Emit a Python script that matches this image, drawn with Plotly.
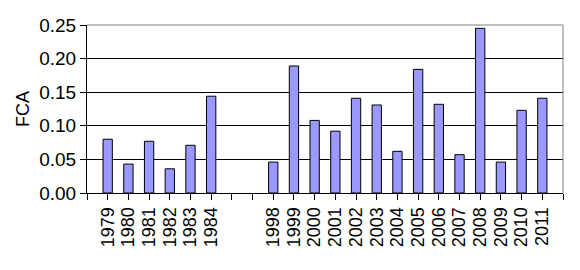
import plotly.graph_objects as go

years = ["1979", "1980", "1981", "1982", "1983", "1984",
         "1998", "1999", "2000", "2001", "2002", "2003", "2004",
         "2005", "2006", "2007", "2008", "2009", "2010", "2011"]
fca = [0.080, 0.043, 0.077, 0.036, 0.071, 0.144,
       0.046, 0.189, 0.108, 0.092, 0.141, 0.131, 0.062,
       0.184, 0.132, 0.057, 0.245, 0.046, 0.123, 0.141]
# category slots: two empty slots between 1984 and 1998
slots = list(range(1, 7)) + list(range(9, 23))

tickvals = list(range(0, 24))
ticktext = [""] * 24
for s, y in zip(slots, years):
    ticktext[s] = y

font = "Liberation Sans, Arial, sans-serif"

fig = go.Figure(go.Bar(
    x=slots, y=fca, width=0.45,
    marker=dict(color="#9999FF", line=dict(color="black", width=1)),
))

fig.update_layout(
    width=580, height=270,
    margin=dict(l=87, r=17, t=25, b=77),
    paper_bgcolor="white", plot_bgcolor="white",
    showlegend=False,
    font=dict(family=font, size=18, color="black"),
    shapes=[
        dict(type="line", xref="paper", yref="paper", x0=0, x1=1, y0=1, y1=1,
             line=dict(color="#808080", width=1), layer="above"),
        dict(type="line", xref="paper", yref="paper", x0=1, x1=1, y0=0, y1=1,
             line=dict(color="#808080", width=1), layer="above"),
    ],
)
fig.update_xaxes(
    range=[0, 23], tickmode="array", tickvals=tickvals, ticktext=ticktext,
    tickangle=-90, ticks="outside", ticklen=6, tickcolor="black",
    showline=True, linecolor="black", linewidth=1, showgrid=False, zeroline=False,
    tickfont=dict(family=font, size=18, color="black"),
)
fig.update_yaxes(
    range=[0, 0.25], tickvals=[0, 0.05, 0.10, 0.15, 0.20, 0.25],
    ticktext=["0.00", "0.05", "0.10", "0.15", "0.20", "0.25"],
    ticks="outside", ticklen=6, tickcolor="black",
    showline=True, linecolor="black", linewidth=1,
    showgrid=True, gridcolor="black", gridwidth=1, zeroline=False,
    tickfont=dict(family=font, size=19, color="black"),
    title=dict(text="FCA", font=dict(family=font, size=18, color="black"), standoff=4),
)

fig.write_html("out.html")
